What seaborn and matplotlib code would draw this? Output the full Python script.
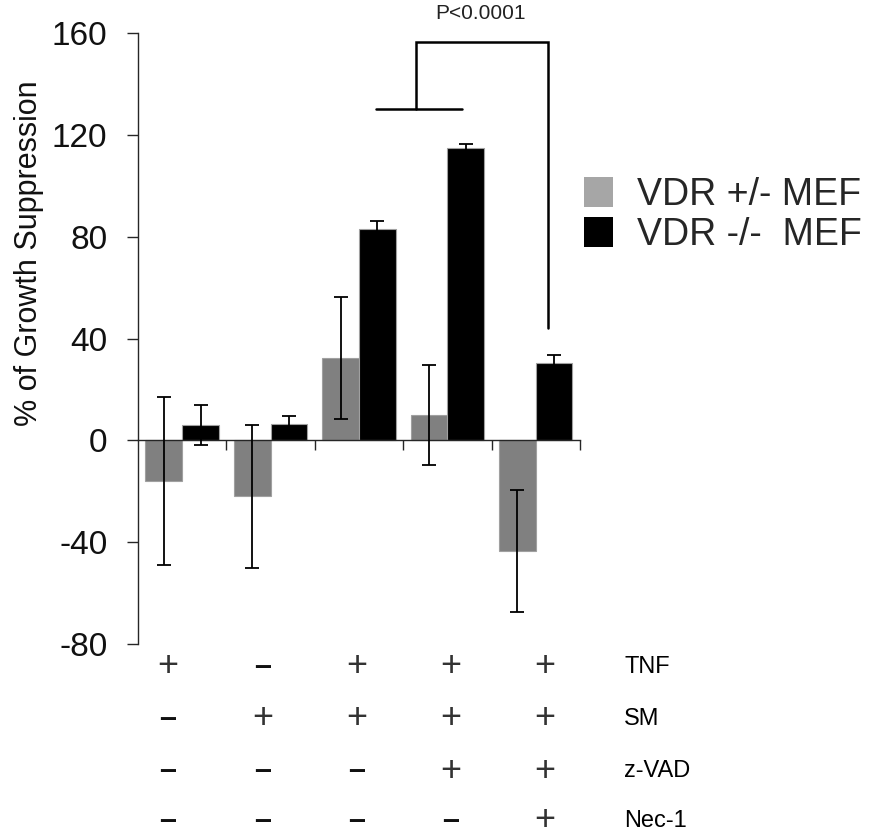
import matplotlib
matplotlib.use("Agg")
import matplotlib.pyplot as plt
import seaborn as sns
import pandas as pd
from matplotlib.patches import Patch
from matplotlib.container import BarContainer

# ---- data ----
groups = ["G1", "G2", "G3", "G4", "G5"]
series = ["VDR +/- MEF", "VDR -/-  MEF"]
het_vals = [-16, -22, 32.5, 10, -43.4]
het_err = [33, 28, 24, 19.6, 24]
ko_vals = [6, 6.5, 83, 115, 30.5]
ko_err = [8, 3, 3, 1.5, 3]
row_names = ["TNF", "SM", "z-VAD", "Nec-1"]
row_signs = [
    ["+", "–", "+", "+", "+"],
    ["–", "+", "+", "+", "+"],
    ["–", "–", "–", "+", "+"],
    ["–", "–", "–", "–", "+"],
]
yticks = [-80, -40, 0, 40, 80, 120, 160]
p_text = "P<0.0001"

df = pd.DataFrame({
    "group": groups * 2,
    "series": [series[0]] * 5 + [series[1]] * 5,
    "value": het_vals + ko_vals,
})

sns.set_style("white")
plt.rcParams["font.family"] = ["Liberation Sans", "DejaVu Sans"]

fig = plt.figure(figsize=(8.71, 8.38), dpi=100)
ax = fig.add_axes([0.1584, 0.2315, 0.5075, 0.7291])

bar_colors = ["#808080", "#000000"]
sns.barplot(data=df, x="group", y="value", hue="series", order=groups,
            hue_order=series, palette=bar_colors, width=0.83,
            errorbar=None, edgecolor="#a0a0a0", linewidth=0.8,
            legend=False, ax=ax)

errs = [het_err, ko_err]
vals = [het_vals, ko_vals]
bar_conts = [c for c in ax.containers if isinstance(c, BarContainer)]
for k, cont in enumerate(bar_conts):
    xs = [b.get_x() + b.get_width() / 2 for b in cont.patches]
    ax.errorbar(xs, vals[k], yerr=errs[k], fmt="none", ecolor="black",
                elinewidth=1.3, capsize=5, capthick=1.3, zorder=5)

ax.set_xlim(-0.5, 4.5)
ax.set_ylim(-80, 160)
ax.set_yticks(yticks)
ax.set_yticklabels([str(t) for t in yticks], fontsize=24, color="#111111")
ax.tick_params(axis="y", direction="out", length=8, width=1, pad=14, left=True)

ax.spines["top"].set_visible(False)
ax.spines["right"].set_visible(False)
ax.spines["bottom"].set_position(("data", 0))
ax.spines["left"].set_linewidth(1)
ax.spines["bottom"].set_linewidth(1)
ax.set_xticks([0.5, 1.5, 2.5, 3.5, 4.5])
ax.set_xticklabels([])
ax.tick_params(axis="x", direction="out", length=7, width=1, bottom=True)
ax.set_xlabel("")
ax.set_ylabel("% of Growth Suppression", fontsize=22, color="#111111")
ax.yaxis.set_label_coords(-0.213, 0.64)

# significance bracket
lw = 1.8
ax.plot([2.19, 3.17], [130, 130], color="black", lw=lw, clip_on=False)
ax.plot([2.645, 2.645, 4.14, 4.14], [130, 156.5, 156.5, 44.3],
        color="black", lw=lw, clip_on=False, solid_joinstyle="miter")
ax.text(3.38, 167.5, p_text, ha="center", va="center", fontsize=15,
        color="#222222", clip_on=False)

# treatment table
row_y = [-89, -109.4, -130, -149.4]
col_x0, col_dx = -0.16, 1.066
for r, (name, signs) in enumerate(zip(row_names, row_signs)):
    for i, s in enumerate(signs):
        if s == "+":
            ax.text(col_x0 + i * col_dx, row_y[r], s, ha="center", va="center",
                    fontsize=26, color="#333333", clip_on=False)
        else:
            ax.text(col_x0 + i * col_dx, row_y[r], s, ha="center", va="center",
                    fontsize=22, fontweight="bold", color="#111111",
                    clip_on=False)
    ax.text(5.0, row_y[r], name, ha="left", va="center", fontsize=17,
            color="black", clip_on=False)

handles = [Patch(facecolor="#a6a6a6", edgecolor="none"),
           Patch(facecolor="#000000", edgecolor="none")]
fig.legend(handles, series, loc="upper left", bbox_to_anchor=(0.671, 0.789),
           frameon=False, fontsize=27, handlelength=0.77, handleheight=0.88,
           handletextpad=0.62, labelspacing=0.1, borderpad=0, borderaxespad=0)

fig.savefig("out.png", dpi=100)
